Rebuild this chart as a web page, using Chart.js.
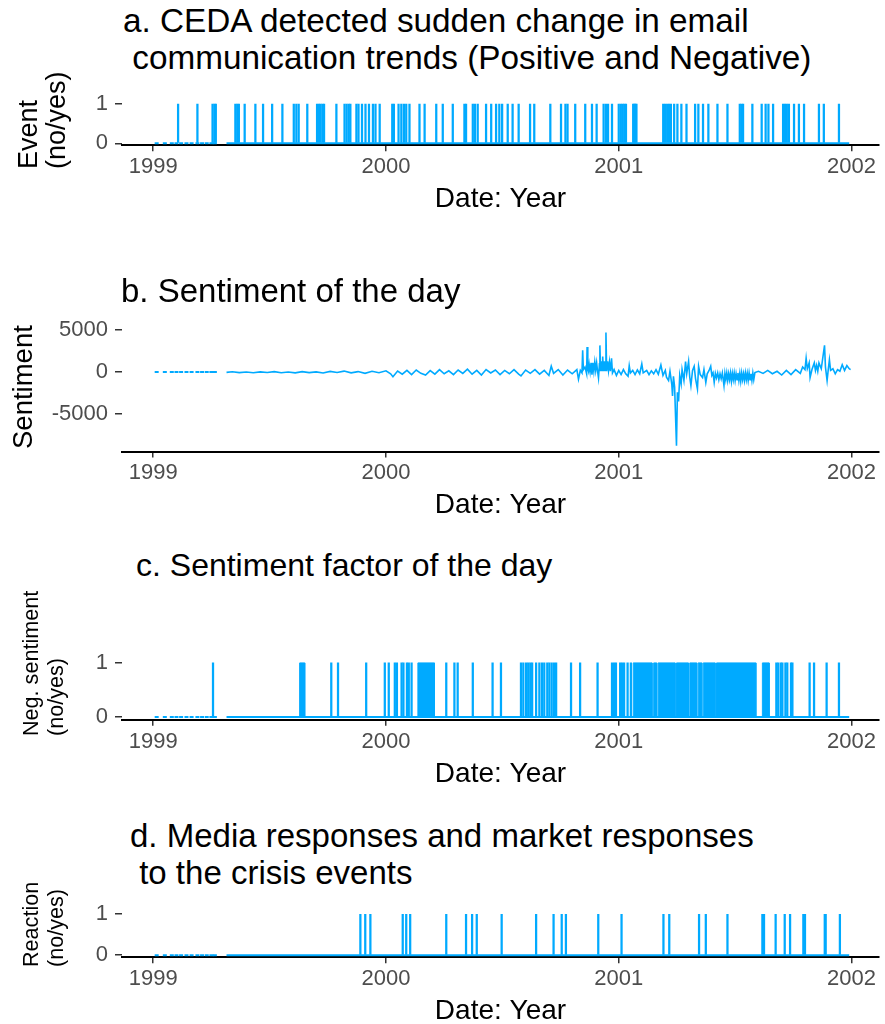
<!DOCTYPE html>
<html>
<head>
<meta charset="utf-8">
<script src="https://cdn.jsdelivr.net/npm/chart.js@4.4.1/dist/chart.umd.min.js"></script>
<style>
  html, body { margin: 0; padding: 0; background: #fff; overflow: hidden; }
  #page { position: relative; width: 885px; height: 1024px; }
  .title { position: absolute; font-family: "Liberation Sans", Arial, sans-serif; font-size: 33px;
           line-height: 37px; color: #000; white-space: pre; }
  /* gedrehte y-Achsentitel, Zeilen linksbuendig (wie ggplot) */
  .ytitle { position: absolute; font-family: "Liberation Sans", Arial, sans-serif; color: #000;
            white-space: pre; transform: rotate(-90deg); transform-origin: 0 0; }
  canvas { position: absolute; left: 0; }
</style>
</head>
<body>
<div id="page">
<canvas id="chartA"></canvas>
<canvas id="chartB"></canvas>
<canvas id="chartC"></canvas>
<canvas id="chartD"></canvas>
<div class="title" style="left:123px;top:2px;font-size:33.3px">a. CEDA detected sudden change in email
 communication trends (Positive and Negative)</div>
<div class="title" style="left:121px;top:272px">b. Sentiment of the day</div>
<div class="title" style="left:136px;top:547px;font-size:32px">c. Sentiment factor of the day</div>
<div class="title" style="left:130px;top:817px">d. Media responses and market responses
 to the crisis events</div>
<div class="ytitle" style="left:13.5px;top:169px;font-size:27px;line-height:28px">Event
(no/yes)</div>
<div class="ytitle" style="left:8.5px;top:449px;font-size:27.5px;line-height:28px">Sentiment</div>
<div class="ytitle" style="left:17.5px;top:736px;font-size:21.6px;line-height:25px">Neg. sentiment
(no/yes)</div>
<div class="ytitle" style="left:17.5px;top:967px;font-size:21.6px;line-height:25px">Reaction
(no/yes)</div>
</div>
<script>
// Achse / Ticks
const yearTicks = [1999, 2000, 2001, 2002];
const binaryTicks = [0, 1];
const sentimentTicks = [-5000, 0, 5000];

// Tage mit Daten: vereinzelt Anfang 1999, danach durchgehend
const sparseDays1999 = [1999.015, 1999.05, 1999.08, 1999.10, 1999.12, 1999.143, 1999.165, 1999.19, 1999.21, 1999.23, 1999.25, 1999.265];
const dailyStart = 1999.315;
const dailyEnd = 2001.99;

// a. CEDA Ereignisse (Jahr als Dezimalzahl)
const cedaEvents = [
  1999.107, 1999.190, 1999.255, 1999.263, 1999.269, 1999.353, 1999.361, 1999.368, 1999.393, 1999.439,
  1999.472, 1999.511, 1999.555, 1999.604, 1999.615, 1999.625, 1999.662, 1999.704, 1999.712, 1999.719,
  1999.727, 1999.734, 1999.787, 1999.822, 1999.831, 1999.840, 1999.847, 1999.873, 1999.882, 1999.897,
  1999.912, 1999.927, 1999.944, 1999.955, 1999.973, 2000.027, 2000.034, 2000.054, 2000.066, 2000.077,
  2000.087, 2000.101, 2000.144, 2000.166, 2000.216, 2000.244, 2000.287, 2000.337, 2000.344, 2000.373,
  2000.382, 2000.394, 2000.430, 2000.452, 2000.473, 2000.487, 2000.499, 2000.523, 2000.544, 2000.570,
  2000.619, 2000.637, 2000.706, 2000.752, 2000.771, 2000.780, 2000.813, 2000.856, 2000.885, 2000.905,
  2000.935, 2000.945, 2000.954, 2000.971, 2001.000, 2001.009, 2001.017, 2001.024, 2001.031, 2001.062,
  2001.067, 2001.071, 2001.076, 2001.191, 2001.199, 2001.208, 2001.216, 2001.224, 2001.238, 2001.252,
  2001.269, 2001.291, 2001.328, 2001.342, 2001.362, 2001.385, 2001.424, 2001.467, 2001.520, 2001.527,
  2001.534, 2001.574, 2001.614, 2001.631, 2001.643, 2001.663, 2001.706, 2001.714, 2001.722, 2001.731,
  2001.753, 2001.774, 2001.796, 2001.860, 2001.881, 2001.946
];

// b. Stimmung des Tages [Jahr, Wert]
const sentimentSparse = [0, 0, 0, 0, 0, 0, 0, 0, 0, 0, 0, 0];
const sentimentSeries = [
  [1999.315,-30],[1999.34,40],[1999.37,-60],[1999.40,20],[1999.43,-80],[1999.46,30],[1999.49,-40],
  [1999.52,60],[1999.55,-70],[1999.58,20],[1999.61,-90],[1999.64,50],[1999.67,-60],[1999.70,30],
  [1999.73,-100],[1999.76,80],[1999.79,-50],[1999.82,120],[1999.85,-90],[1999.88,60],[1999.91,-150],
  [1999.94,100],[1999.97,-80],
  [2000.00,150],[2000.02,-200],[2000.03,-550],[2000.05,120],[2000.07,-250],[2000.09,200],[2000.11,-300],
  [2000.13,250],[2000.15,-150],[2000.17,-350],[2000.19,180],[2000.21,-250],[2000.23,300],[2000.25,-200],
  [2000.27,150],[2000.29,-300],[2000.31,250],[2000.33,-150],[2000.35,350],[2000.37,-250],[2000.39,200],
  [2000.41,-350],[2000.43,300],[2000.45,-100],[2000.47,250],[2000.49,-300],[2000.51,200],[2000.53,-200],
  [2000.55,300],[2000.57,-250],[2000.58,-460],[2000.60,250],[2000.62,-150],[2000.64,300],[2000.66,-250],
  [2000.68,200],[2000.70,-400],[2000.71,700],[2000.72,-150],[2000.74,300],[2000.76,-350],[2000.78,250],
  [2000.80,-200],[2000.82,300],
  [2000.827,-850],[2000.835,200],[2000.842,-100],[2000.845,2610],[2000.848,300],[2000.855,600],
  [2000.862,-200],[2000.864,3000],[2000.867,400],[2000.870,100],[2000.873,900],[2000.877,50],
  [2000.881,1100],[2000.885,-300],[2000.889,1100],[2000.893,100],[2000.897,1200],[2000.901,200],
  [2000.905,1100],[2000.909,100],[2000.913,-700],[2000.917,1000],[2000.919,3190],[2000.922,100],
  [2000.926,1300],[2000.929,200],[2000.931,1850],[2000.934,100],[2000.938,1300],[2000.941,200],
  [2000.945,4740],[2000.948,100],[2000.952,1300],[2000.956,200],[2000.960,1200],[2000.964,100],
  [2000.969,1650],[2000.973,-100],[2000.98,300],[2000.99,-400],
  [2001.00,200],[2001.01,-300],[2001.02,300],[2001.03,-200],[2001.04,-500],[2001.045,770],[2001.05,-100],
  [2001.06,200],[2001.07,-300],[2001.08,250],[2001.09,-200],[2001.099,970],[2001.105,-100],[2001.12,200],
  [2001.13,-300],[2001.14,150],[2001.15,-200],[2001.16,300],[2001.17,-250],[2001.181,850],[2001.19,-400],
  [2001.20,200],[2001.205,-600],[2001.214,-1000],[2001.22,100],[2001.228,-1500],[2001.231,-2850],
  [2001.235,-500],[2001.24,-1800],[2001.248,-8800],[2001.252,-2400],[2001.257,-3500],[2001.262,-400],
  [2001.268,-1400],[2001.272,300],[2001.28,-1000],[2001.287,1270],[2001.292,-200],[2001.30,1270],
  [2001.305,-600],[2001.31,-1600],[2001.317,200],[2001.324,700],[2001.33,-800],[2001.338,-2000],
  [2001.343,700],[2001.35,-300],[2001.36,-650],[2001.366,300],[2001.374,-1230],[2001.38,-200],
  [2001.388,200],[2001.395,700],[2001.40,-400],[2001.405,-100],[2001.410,-1230],[2001.415,-150],
  [2001.42,-700],[2001.425,-100],[2001.43,-900],[2001.435,-200],[2001.44,-800],[2001.445,-100],
  [2001.452,-1600],[2001.456,-150],[2001.46,-900],[2001.464,-100],[2001.468,-1000],[2001.472,-200],
  [2001.476,-900],[2001.48,-100],[2001.484,-1100],[2001.488,-150],[2001.492,-900],[2001.496,-100],
  [2001.50,-1000],[2001.504,-200],[2001.508,-900],[2001.512,-100],[2001.516,-1000],[2001.52,-150],
  [2001.524,-1100],[2001.528,-100],[2001.532,-900],[2001.536,-200],[2001.54,-1000],[2001.544,-100],
  [2001.548,-900],[2001.552,-150],[2001.556,-1000],[2001.56,-100],[2001.564,-900],[2001.568,-200],
  [2001.572,-1000],[2001.576,-100],[2001.58,-900],[2001.585,-50],
  [2001.60,100],[2001.62,-150],[2001.64,200],[2001.66,-200],[2001.68,100],[2001.70,-350],[2001.72,200],
  [2001.74,-300],[2001.76,300],[2001.78,-150],[2001.79,600],[2001.80,300],[2001.805,1650],[2001.81,400],
  [2001.818,1100],[2001.822,-650],[2001.83,300],[2001.84,1100],[2001.845,200],[2001.85,800],
  [2001.855,100],[2001.86,1100],[2001.87,400],[2001.884,3190],[2001.888,600],[2001.895,-1000],
  [2001.90,300],[2001.905,1460],[2001.91,200],[2001.92,400],[2001.93,-200],[2001.94,300],[2001.95,100],
  [2001.96,880],[2001.97,200],[2001.98,780],[2001.99,400],[2001.996,300]
];

// c. Negative Stimmung: einzelne Tage und dichte Phasen [Beginn, Ende]
const negSpikes = [
  1999.257, 1999.765, 1999.794, 1999.915, 1999.995, 2000.012, 2000.038, 2000.047, 2000.067, 2000.075,
  2000.090, 2000.098, 2000.110, 2000.259, 2000.294, 2000.308, 2000.373, 2000.458, 2000.494, 2000.580,
  2000.590, 2000.602, 2000.611, 2000.620, 2000.628, 2000.645, 2000.659, 2000.670, 2000.680, 2000.693,
  2000.702, 2000.712, 2000.722, 2000.731, 2000.795, 2000.834, 2000.909, 2000.971, 2000.980, 2000.988,
  2001.006, 2001.014, 2001.023, 2001.038, 2001.052, 2001.677, 2001.685, 2001.696, 2001.703, 2001.716,
  2001.724, 2001.740, 2001.746, 2001.820, 2001.839, 2001.893, 2001.946
];
const negBlocks = [
  [1999.629, 1999.651], [2000.137, 2000.208], [2001.062, 2001.143], [2001.150, 2001.163],
  [2001.169, 2001.242], [2001.248, 2001.299], [2001.305, 2001.335], [2001.341, 2001.357],
  [2001.363, 2001.414], [2001.420, 2001.589], [2001.617, 2001.646]
];

// d. Medien- und Marktreaktionen
const reactionEvents = [
  1999.890, 1999.911, 1999.933, 2000.072, 2000.087, 2000.104, 2000.259, 2000.344, 2000.370, 2000.390,
  2000.497, 2000.645, 2000.720, 2000.755, 2000.773, 2000.912, 2001.012, 2001.192, 2001.217, 2001.345,
  2001.374, 2001.467, 2001.617, 2001.624, 2001.674, 2001.713, 2001.736, 2001.793, 2001.800, 2001.885,
  2001.889, 2001.950
];

const BLUE = "#00aaff";
const FONT = "'Liberation Sans', Arial, sans-serif";
const X_MIN = 1998.866, X_MAX = 2002.118;

function baselineSets() {
  return [
    { type: "line", data: [{ x: dailyStart, y: 0 }, { x: dailyEnd, y: 0 }],
      borderColor: BLUE, borderWidth: 2, pointRadius: 0 },
    { type: "line", data: sparseDays1999.map(x => ({ x, y: 0 })), showLine: false,
      pointStyle: "line", pointRadius: 2, pointBorderColor: BLUE, pointBorderWidth: 2 }
  ];
}

function spikeBars(list) {
  return { type: "bar", data: list.map(x => ({ x, y: 1 })), backgroundColor: BLUE,
           barThickness: 1.6, borderWidth: 0, grouped: false };
}

function blockSet(b) {
  return { type: "line", data: [{ x: b[0], y: 0 }, { x: b[0], y: 1 }, { x: b[1], y: 1 }, { x: b[1], y: 0 }],
           borderColor: BLUE, borderWidth: 1, backgroundColor: BLUE, fill: "origin", pointRadius: 0 };
}

// Panel zeichnen: top/height = Canvas, areaTop/areaBottom = Plotbereich (absolut)
function makePanel(id, geo, datasets, yOpt) {
  const cv = document.getElementById(id);
  cv.width = 885; cv.height = geo.height;
  cv.style.top = geo.top + "px";
  cv.style.width = "885px"; cv.style.height = geo.height + "px";
  const xH = geo.top + geo.height - geo.areaBottom;

  new Chart(cv, {
    type: "bar",
    data: { datasets },
    options: {
      responsive: false,
      animation: false,
      layout: { padding: { top: geo.areaTop - geo.top, right: 5, left: 0, bottom: 0 } },
      plugins: { legend: { display: false }, tooltip: { enabled: false } },
      scales: {
        x: {
          type: "linear", min: X_MIN, max: X_MAX, offset: false,
          afterBuildTicks: s => { s.ticks = yearTicks.map(v => ({ value: v })); },
          afterFit: s => { s.height = xH; },
          ticks: { callback: v => String(v), color: "#4d4d4d", font: { family: FONT, size: 22 },
                   padding: 2.5, maxRotation: 0, autoSkip: false },
          grid: { display: true, drawOnChartArea: false, drawTicks: true, tickLength: 6,
                  color: "#333", lineWidth: 1.5, offset: false },
          border: { display: true, color: "#000", width: 2 },
          title: { display: true, text: "Date: Year", color: "#000",
                   font: { family: FONT, size: 28, lineHeight: 1.2 }, padding: { top: 0, bottom: 5.5 } }
        },
        y: {
          type: "linear", min: yOpt.min, max: yOpt.max,
          afterBuildTicks: s => { s.ticks = yOpt.ticks.map(v => ({ value: v })); },
          afterFit: s => { s.width = 122; },
          ticks: { callback: v => String(v), color: "#4d4d4d", font: { family: FONT, size: 22 }, padding: 7 },
          grid: { display: true, drawOnChartArea: false, drawTicks: true, tickLength: 7,
                  color: "#333", lineWidth: 1.5 },
          border: { display: false },
          title: { display: false }
        }
      }
    }
  });
}

// a.
makePanel("chartA", { top: 82, height: 140, areaTop: 95.75, areaBottom: 145.25 },
  [spikeBars(cedaEvents), ...baselineSets()],
  { min: -0.05, max: 1.05, ticks: binaryTicks });

// b.
makePanel("chartB", { top: 306, height: 222, areaTop: 321.8, areaBottom: 451.5 },
  [
    { type: "line", data: sentimentSeries.map(p => ({ x: p[0], y: p[1] })),
      borderColor: BLUE, borderWidth: 1.6, pointRadius: 0, tension: 0 },
    { type: "line", data: sparseDays1999.map((x, i) => ({ x, y: sentimentSparse[i] })), showLine: false,
      pointStyle: "line", pointRadius: 2, pointBorderColor: BLUE, pointBorderWidth: 2 }
  ],
  { min: -9480, max: 5480, ticks: sentimentTicks });

// c.
makePanel("chartC", { top: 640, height: 157, areaTop: 658.2, areaBottom: 719.8 },
  [spikeBars(negSpikes), ...negBlocks.map(blockSet), ...baselineSets()],
  { min: -0.05, max: 1.05, ticks: binaryTicks });

// d.
makePanel("chartD", { top: 892, height: 142, areaTop: 907.75, areaBottom: 957.25 },
  [spikeBars(reactionEvents), ...baselineSets()],
  { min: -0.05, max: 1.05, ticks: binaryTicks });
</script>
</body>
</html>
